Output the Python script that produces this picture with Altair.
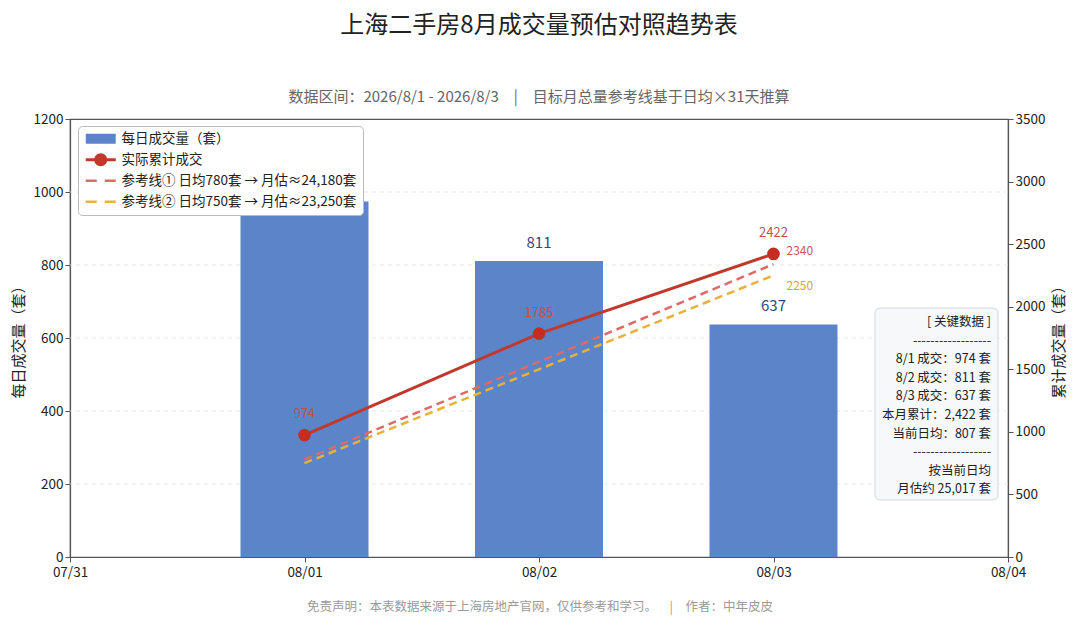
import altair as alt
import pandas as pd

# data
dates = ["2026-08-01", "2026-08-02", "2026-08-03"]
daily = [974, 811, 637]
cumulative = [974, 1785, 2422]
ref1 = [780, 1560, 2340]
ref2 = [750, 1500, 2250]
series = [
    "每日成交量（套）",
    "实际累计成交",
    "参考线① 日均780套 → 月估≈24,180套",
    "参考线② 日均750套 → 月估≈23,250套",
]
series_colors = ["#5b85c8", "#bf3a2c", "#dc6a66", "#e9b03c"]
grid_vals = [200, 400, 600, 800, 1000]
key_lines = [
    "[ 关键数据 ]",
    "------------------",
    "8/1 成交：974 套",
    "8/2 成交：811 套",
    "8/3 成交：637 套",
    "本月累计：2,422 套",
    "当前日均：807 套",
    "------------------",
    "按当前日均",
    "月估约 25,017 套",
]
footer = "免责声明：本表数据来源于上海房地产官网，仅供参考和学习。\u2002\u2002|\u2002\u2002作者：中年皮皮"
subtitle = "数据区间：2026/8/1 - 2026/8/3\u2002\u2002|\u2002\u2002目标月总量参考线基于日均×31天推算"

FONT = "Noto Sans CJK SC"
W, H = 938, 438

df = pd.DataFrame({
    "date": dates, "idx": range(len(dates)), "daily": daily,
    "cum": cumulative, "ref1": ref1, "ref2": ref2,
})
legend_df = pd.DataFrame({"series": series, "date": ["2026-08-12"] * 4, "v": [0] * 4})
grid_df = pd.DataFrame({"g": grid_vals})

day_ticks = [alt.DateTime(year=2026, month=m, date=d, utc=True)
             for m, d in [(7, 31), (8, 1), (8, 2), (8, 3), (8, 4)]]
x = alt.X("date:T", title=None,
          scale=alt.Scale(type="utc", domain=[day_ticks[0], day_ticks[-1]], padding=0),
          axis=alt.Axis(values=day_ticks, labelExpr="utcFormat(datum.value, '%m/%d')",
                        grid=False, labelPadding=3, labelFlush=False))

left_scale = alt.Scale(domain=[0, 1200])
y_left = alt.Y("daily:Q", title="每日成交量（套）", scale=left_scale,
               axis=alt.Axis(values=list(range(0, 1201, 200)), grid=False,
                             format="d", titlePadding=7))
y_right_scale = alt.Scale(domain=[0, 3500])
y_right_axis = alt.Axis(orient="right", values=list(range(0, 3501, 500)),
                        grid=False, format="d", titleAngle=270,
                        titleBaseline="top", titlePadding=7)

base = alt.Chart(df)

grid = alt.Chart(grid_df).mark_rule(color="#e2e2e2", strokeDash=[4, 4], strokeWidth=0.8).encode(
    y=alt.Y("g:Q", scale=left_scale))
bars = base.mark_bar(color=series_colors[0], size=128).encode(x=x, y=y_left)
bar_labels = base.mark_text(dy=-10, baseline="bottom", fontSize=15,
                            color="#2f4a78", font=FONT).encode(
    x=x, y=alt.Y("daily:Q"), text="daily:Q")

# legend built from an invisible (clipped) point layer with custom symbol paths
shapes = [
    "M-1,-1H5V1H-1Z",
    "M-1,-0.3H5V0.3H-1Z M0.7,0A1.3,1.3 0 1,1 3.3,0A1.3,1.3 0 1,1 0.7,0Z",
    "M-1,-0.25H1.2V0.25H-1Z M2.8,-0.25H5V0.25H2.8Z",
    "M-1,-0.25H1.2V0.25H-1Z M2.8,-0.25H5V0.25H2.8Z",
]
legend_layer = alt.Chart(legend_df).mark_point(filled=True, clip=True, size=100, opacity=1).encode(
    x=x,
    y=alt.Y("v:Q"),
    color=alt.Color("series:N", title=None,
                    scale=alt.Scale(domain=series, range=series_colors)),
    shape=alt.Shape("series:N", title=None,
                    scale=alt.Scale(domain=series, range=shapes)),
)

left = alt.layer(grid, bars, bar_labels, legend_layer)

y_cum = alt.Y("cum:Q", title="累计成交量（套）", scale=y_right_scale, axis=y_right_axis)
ref1_line = base.mark_line(color=series_colors[2], strokeDash=[8, 5], strokeWidth=2.5).encode(
    x=x, y=alt.Y("ref1:Q", scale=y_right_scale))
ref2_line = base.mark_line(color=series_colors[3], strokeDash=[8, 5], strokeWidth=2.5).encode(
    x=x, y=alt.Y("ref2:Q", scale=y_right_scale))
cum_line = base.mark_line(color=series_colors[1], strokeWidth=3).encode(x=x, y=y_cum)
cum_pts = base.mark_circle(color="#c62d22", size=160, opacity=1).encode(
    x=x, y=alt.Y("cum:Q", scale=y_right_scale))
cum_labels = base.mark_text(dy=-14, baseline="bottom", fontSize=13,
                            color="#c0504d", font=FONT).encode(
    x=x, y=alt.Y("cum:Q", scale=y_right_scale), text="cum:Q")
last = base.transform_filter(alt.datum.idx == len(dates) - 1)
ref1_label = last.mark_text(align="left", dx=13, dy=-13, fontSize=12,
                            color="#c9584f", font=FONT).encode(
    x=x, y=alt.Y("ref1:Q", scale=y_right_scale), text="ref1:Q")
ref2_label = last.mark_text(align="left", dx=13, dy=11, fontSize=12,
                            color="#d9a52a", font=FONT).encode(
    x=x, y=alt.Y("ref2:Q", scale=y_right_scale), text="ref2:Q")

right = alt.layer(ref1_line, ref2_line, cum_line, cum_pts, cum_labels, ref1_label, ref2_label)

# key data box and footer
note = pd.DataFrame({"t": ["\n".join(key_lines)], "f": [footer]})
box = alt.Chart(note).mark_rect(fill="#f6f8fa", stroke="#d2d8de", cornerRadius=5).encode(
    x=alt.value(805), x2=alt.value(928), y=alt.value(189), y2=alt.value(381))
box_text = alt.Chart(note).mark_text(align="right", baseline="top", fontSize=12.5,
                                     lineBreak="\n", lineHeight=18.6,
                                     color="#222", font=FONT).encode(
    x=alt.value(921), y=alt.value(197), text="t:N")
foot = alt.Chart(note).mark_text(fontSize=12.5, color="#9a9a9a", font=FONT).encode(
    x=alt.value(470), y=alt.value(488), text="f:N")

chart = alt.layer(left, right, box, box_text, foot).resolve_scale(
    y="independent"
).properties(
    width=W, height=H,
    autosize=alt.AutoSizeParams(type="none"),
    padding={"left": 62, "top": 111, "right": 64, "bottom": 60},
    title=alt.TitleParams(
        "上海二手房8月成交量预估对照趋势表",
        subtitle=subtitle,
        anchor="middle", fontSize=24, fontWeight="normal", color="#222",
        subtitleFontSize=15, subtitleColor="#666", subtitlePadding=52,
        offset=7, font=FONT, subtitleFont=FONT,
    ),
).configure_view(stroke="#555", strokeWidth=1.2).configure_axis(
    labelFont=FONT, titleFont=FONT, labelFontSize=13.5, labelColor="#222",
    titleFontSize=15, titleFontWeight="normal", titleColor="#222",
    domainColor="#555", tickColor="#555", tickSize=5, domainWidth=1.2,
).configure_legend(
    orient="none", legendX=8, legendY=7, fillColor="white", strokeColor="#bbb",
    cornerRadius=4, padding=6, rowPadding=6, labelFont=FONT, labelFontSize=13.5,
    labelColor="#222", symbolSize=100, labelOffset=24, symbolStrokeWidth=0,
    labelLimit=400,
)

chart.save("out.html", embed_options={"renderer": "svg", "actions": False})
